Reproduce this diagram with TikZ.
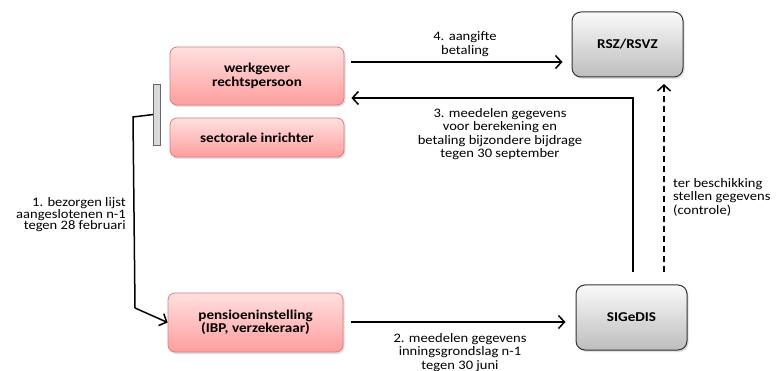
\documentclass[tikz,border=0pt]{standalone}
\usepackage{fontspec}
\setmainfont{Carlito}
\newfontfamily\lblfont[FakeStretch=1.12]{Carlito}
\newfontfamily\boxfont[FakeStretch=1.12]{Carlito}
\usetikzlibrary{arrows.meta,shadows,positioning}
\definecolor{pinktop}{HTML}{FFE0E0}
\definecolor{pinkbot}{HTML}{FF9E9E}
\definecolor{pinkline}{HTML}{E07A7A}
\definecolor{graytop}{HTML}{FAFAFA}
\definecolor{graybot}{HTML}{BDBDBD}
\tikzset{
  pinkbox/.style={rectangle, rounded corners=7pt, draw=pinkline, line width=0.8pt,
    top color=pinktop, bottom color=pinkbot, font=\boxfont\bfseries\fontsize{13.5}{13.5}\selectfont,
    align=center, inner sep=0pt,
    drop shadow={opacity=0.25, shadow xshift=1.5pt, shadow yshift=-2pt}},
  graybox/.style={rectangle, rounded corners=9pt, draw=black!80, line width=1pt,
    top color=graytop, bottom color=graybot, font=\boxfont\bfseries\fontsize{13.5}{13.5}\selectfont,
    align=center, inner sep=0pt,
    drop shadow={opacity=0.25, shadow xshift=1.5pt, shadow yshift=-2pt}},
  lbl/.style={font=\lblfont\fontsize{13}{13.5}\selectfont, inner sep=0pt},
  conn/.style={line width=1.5pt, -{Straight Barb[length=6pt,width=13pt,line width=1.5pt]}},
}
\begin{document}
\begin{tikzpicture}[x=1pt,y=-1pt]
\useasboundingbox (0,0) rectangle (779,371);
% boxes
\node[pinkbox, minimum width=174pt, minimum height=58pt] (wg) at (257,76) {werkgever\\rechtspersoon};
\node[pinkbox, minimum width=174pt, minimum height=39pt] (si) at (257,137.5) {sectorale inrichter};
\node[pinkbox, minimum width=175pt, minimum height=59pt] (pi) at (255.5,322.5) {pensioeninstelling\\(IBP, verzekeraar)};
\node[graybox, minimum width=111pt, minimum height=65pt] (rsz) at (627.5,44.5) {RSZ/RSVZ};
\node[graybox, minimum width=111pt, minimum height=65pt] (sig) at (631.5,317.5) {SIGeDIS};
% bracket
\node[rectangle, draw=black!60, fill=gray!30, line width=0.6pt, minimum width=7pt, minimum height=61pt, inner sep=0pt] (brk) at (157,114.5) {};
% coordinates
\coordinate (c1) at (133,117);
\coordinate (c2) at (135,308);
\coordinate (c3) at (633,98);
\coordinate (s3) at (633,272);
\coordinate (sd) at (664,272);
\coordinate (ed) at (664,84);
% connectors
\draw[line width=1.5pt] (brk.west) -- (c1) -- (c2);
\draw[conn] (c2) -- (pi.west);
\draw[conn] ([xshift=7pt]wg.east |- 0,62) -- ([xshift=-9pt]rsz.west |- 0,62);
\draw[conn] (s3) -- (c3) -- ([xshift=7pt]wg.east |- c3);
\draw[conn, dash pattern=on 6pt off 4pt] (sd) -- (ed);
\draw[conn] ([xshift=8pt]pi.east |- 0,322) -- ([xshift=-10pt]sig.west |- 0,322);
% labels
\node[lbl, align=center] (l4) at (465,44) {4. aangifte\\betaling};
\node[lbl, align=center] (l3) at (500,134) {3. meedelen gegevens\\voor berekening en\\betaling bijzondere bijdrage\\tegen 30 september};
\node[lbl, align=right, anchor=east, font=\lblfont\fontsize{13}{11.5}\selectfont] (l1) at (126,215) {1. bezorgen lijst\\aangeslotenen n-1\\tegen 28 februari};
\node[lbl, align=left, anchor=west] (ld) at (673,197) {ter beschikking\\stellen gegevens\\(controle)};
\node[lbl, align=center, anchor=north] (l2) at (460,333) {2. meedelen gegevens\\inningsgrondslag n-1\\tegen 30 juni};
\end{tikzpicture}
\end{document}
